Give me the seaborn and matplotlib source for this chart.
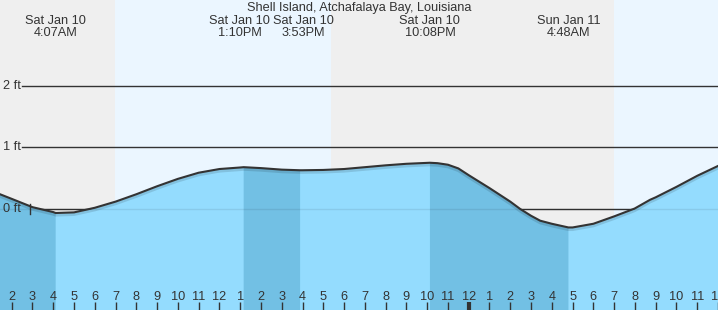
import matplotlib
matplotlib.use("Agg")
import matplotlib.pyplot as plt
import seaborn as sns
import pandas as pd
import numpy as np
from matplotlib.transforms import blended_transform_factory, offset_copy

# ---------------- data ----------------
title = "Shell Island, Atchafalaya Bay, Louisiana"

# hours since Sat Jan 10 00:00, tide level in ft
hours = [1.437, 2, 3, 4, 4.117, 5, 6, 7, 8, 9, 10, 11, 12, 13, 13.167,
         14, 15, 15.883, 16, 17, 18, 19, 20, 21, 22, 22.133, 22.5, 23, 23.5,
         24, 25, 26, 26.48, 27, 27.44, 28, 28.8, 29, 30, 31, 31.93, 32, 32.73,
         33, 34, 35, 36.0]
levels = [0.24, 0.165, 0.03, -0.05, -0.065, -0.055, 0.02, 0.12, 0.24, 0.37, 0.49,
          0.59, 0.65, 0.675, 0.68, 0.665, 0.64, 0.63, 0.63, 0.635, 0.65, 0.68,
          0.71, 0.735, 0.75, 0.752, 0.745, 0.72, 0.66, 0.55, 0.34, 0.12, 0.0,
          -0.11, -0.19, -0.24, -0.30, -0.30, -0.24, -0.12, 0.0, 0.01, 0.15,
          0.19, 0.36, 0.54, 0.70]

extreme_hours = [4.117, 13.167, 15.883, 22.133, 28.8]
extreme_dates = ["Sat Jan 10", "Sat Jan 10", "Sat Jan 10", "Sat Jan 10", "Sun Jan 11"]
extreme_times = ["4:07AM", "1:10PM", "3:53PM", "10:08PM", "4:48AM"]

falling_spans = [(1.437, 4.117), (13.167, 15.883), (22.133, 28.8)]
day_spans = [(6.97, 17.37), (31.0, 36.0)]

tick_hours = list(range(2, 37))
tick_labels = ["2", "3", "4", "5", "6", "7", "8", "9", "10", "11", "12",
               "1", "2", "3", "4", "5", "6", "7", "8", "9", "10", "11", "12",
               "1", "2", "3", "4", "5", "6", "7", "8", "9", "10", "11", "12"]
midnight_hour = 24

ft_levels = [0, 1, 2]
ft_labels = ["0 ft", "1 ft", "2 ft"]

x_range = (1.437, 36.0)
y_range = (-1.642, 3.398)

# ---------------- style ----------------
plt.rcParams["font.family"] = ["Liberation Sans", "DejaVu Sans"]
TXT = "#333333"
FS = 9.2
W, H = 718, 310
label_nudge_px = [0, -4, 3, 0, 0]   # keep the close labels apart

fig = plt.figure(figsize=(W / 100, H / 100), dpi=100)
ax = fig.add_axes([0, 0, 1, 1])
ax.set_xlim(*x_range)
ax.set_ylim(*y_range)
ax.set_facecolor("#efefef")
for s in ax.spines.values():
    s.set_visible(False)

for a, b in day_spans:
    ax.axvspan(a, b, color="#ebf6ff", lw=0, zorder=0)

for v in ft_levels:
    ax.axhline(v, xmin=22 / W, xmax=1, color=TXT, lw=1, zorder=1)

df = pd.DataFrame({"hour": hours, "level": levels})
h = np.array(hours)
lv = np.array(levels)
ax.fill_between(h, lv, y_range[0], color="#94dcfe", lw=0, zorder=2)
mask = np.zeros_like(h, dtype=bool)
for a, b in falling_spans:
    mask |= (h >= a) & (h <= b)
ax.fill_between(h, lv, y_range[0], where=mask, color="#72c0e4", lw=0, zorder=2.1)

# faint zero line through the water
ax.axhline(0, color="black", alpha=0.08, lw=1, zorder=2.5)

# soft shadow and tide curve
ax.plot(h, lv - 0.03, color="black", alpha=0.12, lw=2.5, zorder=3)
sns.lineplot(data=df, x="hour", y="level", color=TXT, lw=1.5, ax=ax, zorder=4,
             sort=False, estimator=None)

# small cross on zero line
bt = blended_transform_factory(ax.transAxes, ax.transData)
ax.plot([30 / W, 30 / W], [-0.08, 0.08], color=TXT, lw=1, transform=bt, zorder=5)

# y labels
for v, lab in zip(ft_levels, ft_labels):
    ax.text(3 / W, v, lab, transform=bt, ha="left", va="center",
            fontsize=FS, color=TXT, zorder=6)

# x ticks
ax.set_xticks(tick_hours)
ax.set_xticklabels(tick_labels)
ax.set_yticks([])
ax.tick_params(axis="x", direction="in", length=6, width=1, color=TXT,
               pad=-13.5, labelsize=FS, labelcolor=TXT)
for t, hr in zip(ax.xaxis.get_major_ticks(), tick_hours):
    if hr == midnight_hour:
        t.tick1line.set_markeredgewidth(3)
        t.tick1line.set_color("black")
ax.xaxis.set_zorder(10)
ax.set_xlabel("")
ax.set_ylabel("")

# top texts
tt = blended_transform_factory(ax.transData, ax.transAxes)
ax.text(0.5, 1 - 8.5 / H, title, transform=ax.transAxes, ha="center", va="center",
        fontsize=FS, color=TXT, zorder=6)
for xh, d, tm, nud in zip(extreme_hours, extreme_dates, extreme_times, label_nudge_px):
    tr = offset_copy(tt, fig=fig, x=nud * 72 / 100, y=0, units="points")
    ax.text(xh, 1 - 21.5 / H, d, transform=tr, ha="center", va="center",
            fontsize=FS, color=TXT, zorder=6)
    ax.text(xh, 1 - 33.5 / H, tm, transform=tr, ha="center", va="center",
            fontsize=FS, color=TXT, zorder=6)

fig.savefig("out.png", dpi=100)
